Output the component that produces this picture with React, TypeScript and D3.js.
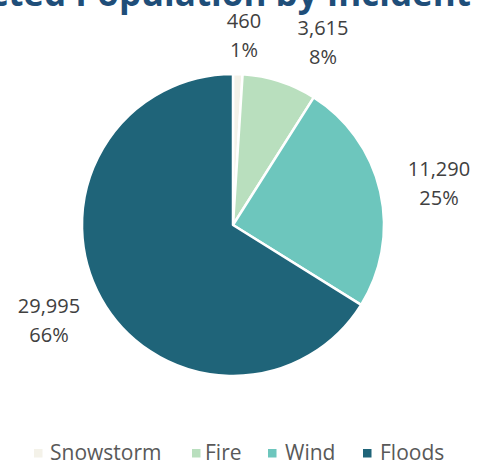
import React, { useEffect, useRef } from 'react';
import * as d3 from 'd3';

const categories = ['Snowstorm', 'Fire', 'Wind', 'Floods'];
const values = [460, 3615, 11290, 29995];
const percentLabels = ['1%', '8%', '25%', '66%'];
const colors = ['#F4F2E9', '#B9DFBE', '#6DC6BD', '#1F6479'];
const title = 'Affected Population by Incident';

const W = 477;
const H = 460;

export default function App() {
  const svgRef = useRef<SVGSVGElement>(null);

  useEffect(() => {
    if (!svgRef.current) return;
    const svg = d3.select(svgRef.current);
    svg.selectAll('*').remove();

    const cx = 233;
    const cy = 225;
    const r = 151;
    const font = '"Open Sans", "Liberation Sans", sans-serif';

    // title, cut off at the top like the source
    svg.append('text')
      .attr('x', 471)
      .attr('y', 6)
      .attr('text-anchor', 'end')
      .attr('font-family', font)
      .attr('font-weight', 700)
      .attr('font-size', 35)
      .attr('fill', '#1F4E79')
      .text(title);

    const pie = d3.pie<number>().sort(null).value(d => d);
    const arcs = pie(values);
    const arc = d3.arc<d3.PieArcDatum<number>>().innerRadius(0).outerRadius(r);

    const g = svg.append('g').attr('transform', `translate(${cx},${cy})`);
    g.selectAll('path')
      .data(arcs)
      .enter()
      .append('path')
      .attr('d', arc)
      .attr('fill', (_, i) => colors[i])
      .attr('stroke', '#fff')
      .attr('stroke-width', 2.5)
      .attr('stroke-linejoin', 'round');

    // data labels, placed outside the slices
    const labelPos: [number, number][] = [
      [244, 28],
      [323, 35],
      [439, 176],
      [49, 313],
    ];
    const fmt = d3.format(',');
    arcs.forEach((a, i) => {
      const [lx, ly] = labelPos[i];
      const t = svg.append('text')
        .attr('text-anchor', 'middle')
        .attr('font-family', font)
        .attr('font-size', 20)
        .attr('fill', '#404040');
      t.append('tspan').attr('x', lx).attr('y', ly).text(fmt(a.data));
      t.append('tspan').attr('x', lx).attr('y', ly + 29).text(percentLabels[i]);
    });

    // legend
    const legendX = [34, 192, 268, 363];
    const legendTextX = [50, 205, 285, 380];
    const lg = svg.append('g');
    categories.forEach((c, i) => {
      lg.append('rect')
        .attr('x', legendX[i])
        .attr('y', 449)
        .attr('width', 8.5)
        .attr('height', 8.5)
        .attr('fill', colors[i]);
      lg.append('text')
        .attr('x', legendTextX[i])
        .attr('y', 460)
        .attr('font-family', font)
        .attr('font-size', 21)
        .attr('fill', '#595959')
        .text(c);
    });
  }, []);

  return (
    <div style={{ position: 'absolute', left: 0, top: 0, width: W, height: H, background: '#fff', overflow: 'hidden' }}>
      <svg ref={svgRef} width={W} height={H} />
    </div>
  );
}
